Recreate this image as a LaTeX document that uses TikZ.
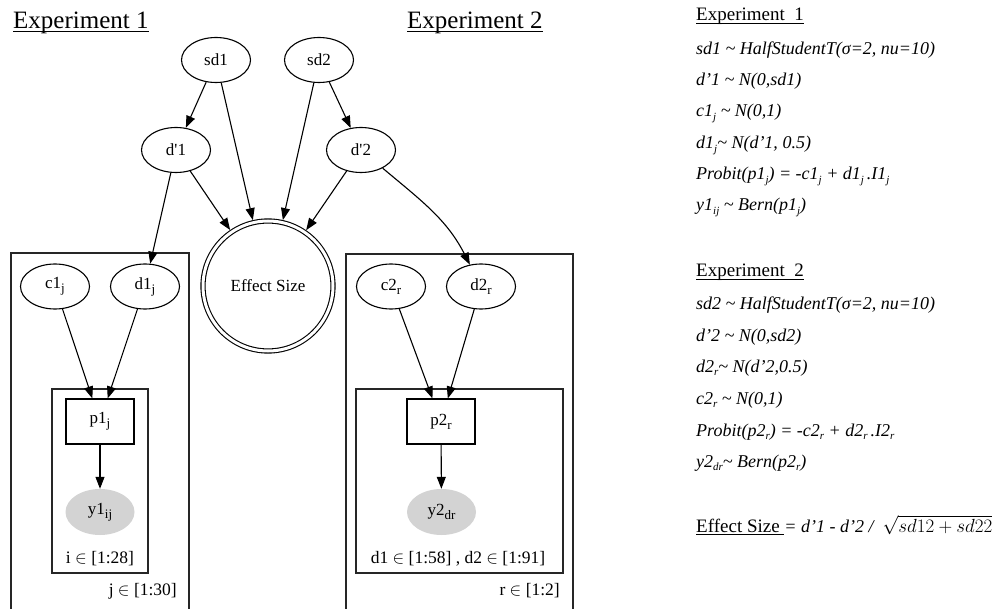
\documentclass[tikz,border=0pt]{standalone}
\usepackage{fix-cm}
\usepackage{fontspec}
\setmainfont{Liberation Serif}
\usetikzlibrary{arrows.meta,shapes.geometric}

\newcommand\fsz[1]{\fontsize{#1}{#1}\selectfont}
% subscript inside graph nodes
\newcommand\gsub[1]{\raisebox{-4pt}{\fsz{13}#1}}
% subscript in the model equations
\newcommand\tsub[1]{\raisebox{-3.5pt}{\fsz{11}#1}}
% text with a rule just under the baseline
\newcommand\myul[1]{\setbox0\hbox{#1}\rlap{\rule[-3pt]{\wd0}{1.1pt}}\box0}

\begin{document}
\begin{tikzpicture}[x=1pt,y=-1pt,
  every node/.style={inner sep=0pt},
  var/.style={draw,ellipse,line width=1.1pt,minimum width=69pt,minimum height=45pt,font=\fsz{17}},
  obs/.style={ellipse,fill={rgb,255:red,211;green,211;blue,211},minimum width=69pt,minimum height=46pt,font=\fsz{17}},
  det/.style={draw,rectangle,line width=1.1pt,minimum width=68pt,minimum height=45pt,font=\fsz{17}},
  esz/.style={draw,circle,line width=1.1pt,double,double distance=3pt,minimum size=130pt,outer sep=2.6pt,font=\fsz{17}},
  edge/.style={line width=1.1pt,-{Triangle[length=12pt,width=9pt]}},
  plate/.style={draw=black!85,line width=1.1pt},
  plab/.style={font=\fsz{17.5},anchor=base},
  ttl/.style={font=\fsz{25},anchor=base west},
  eqh/.style={font=\fsz{19},anchor=base west},
  eq/.style={font=\fsz{18}\itshape,anchor=base west}]
\useasboundingbox (0,0) rectangle (1000,609);

% titles
\node[ttl] (t1) at (13,29) {\myul{Experiment 1}};
\node[ttl] (t2) at (407,29) {\myul{Experiment 2}};

% plates
\draw[plate] (11,253) rectangle (189,620);
\draw[plate] (52,389) rectangle (148,573);
\draw[plate] (346,254) rectangle (573,620);
\draw[plate] (356,389) rectangle (563,573);

% graph nodes
\node[var] (sd1) at (216,60) {sd1};
\node[var] (sd2) at (319,60) {sd2};
\node[var] (dp1) at (176,150) {d\textquotesingle 1};
\node[var] (dp2) at (361,150) {d\textquotesingle 2};
\node[esz] (es) at (268,286) {Effect Size};
\node[var] (c1) at (55,286.5) {c1\gsub{j}};
\node[var] (d1) at (145,286.5) {d1\gsub{j}};
\node[det] (p1) at (100,421.5) {p1\gsub{j}};
\node[obs] (y1) at (100,512) {y1\gsub{ij}};
\node[var] (c2) at (391,286.5) {c2\gsub{r}};
\node[var] (d2) at (481,286.5) {d2\gsub{r}};
\node[det] (p2) at (441,421.5) {p2\gsub{r}};
\node[obs] (y2) at (441.5,512) {y2\gsub{dr}};

% plate labels
\node[plab] (li) at (100,563) {i $\in$ [1:28]};
\node[plab,anchor=base east] (lj) at (177,595) {j $\in$ [1:30]};
\node[plab] (ld) at (458,563) {d1 $\in$ [1:58] , d2 $\in$ [1:91]};
\node[plab,anchor=base east] (lr) at (560,595) {r $\in$ [1:2]};

% connectors
\draw[edge] (sd1) -- (dp1);
\draw[edge] (sd1) -- (es);
\draw[edge] (sd2) -- (es);
\draw[edge] (sd2) -- (dp2);
\draw[edge] (dp1) -- (es);
\draw[edge] (dp2) -- (es);
\draw[edge] (dp1) -- (d1);
\draw[edge] (dp2) to[out=-40,in=117] (d2);
\draw[edge] (c1) -- (p1);
\draw[edge] (d1) -- (p1);
\draw[edge] (p1) -- (y1);
\draw[edge] (c2) -- (p2);
\draw[edge] (d2) -- (p2);
\draw[edge] (p2) -- (y2);

% model equations
\node[eqh] (h1) at (696,21) {\myul{Experiment\ \ 1}};
\node[eq] (e1) at (696,55) {sd1 \textasciitilde\ HalfStudentT(σ=2, nu=10)};
\node[eq] (e2) at (696,86) {d’1 \textasciitilde\ N(0,sd1)};
\node[eq] (e3) at (696,117) {c1\tsub{j} \textasciitilde\ N(0,1)};
\node[eq] (e4) at (696,149) {d1\tsub{j}\textasciitilde\ N(d’1, 0.5)};
\node[eq] (e5) at (696,180) {Probit(p1\tsub{j}) = -c1\tsub{j} + d1\tsub{j}\,.I1\tsub{j}};
\node[eq] (e6) at (696,211) {y1\tsub{ij} \textasciitilde\ Bern(p1\tsub{j})};

\node[eqh] (h2) at (696,277) {\myul{Experiment\ \ 2}};
\node[eq] (e7) at (696,309) {sd2 \textasciitilde\ HalfStudentT(σ=2, nu=10)};
\node[eq] (e8) at (696,341) {d’2 \textasciitilde\ N(0,sd2)};
\node[eq] (e9) at (696,372) {d2\tsub{r}\textasciitilde\ N(d’2,0.5)};
\node[eq] (e10) at (696,404) {c2\tsub{r} \textasciitilde\ N(0,1)};
\node[eq] (e11) at (696,436) {Probit(p2\tsub{r}) = -c2\tsub{r} + d2\tsub{r}\,.I2\tsub{r}};
\node[eq] (e12) at (696,467) {y2\tsub{dr}\textasciitilde\ Bern(p2\tsub{r})};

\node[eq] (ef) at (696,532) {{\upshape\fsz{19}\myul{Effect Size\ }}= d’1 - d’2 /\ \ {\fsz{19}$\sqrt{sd12+sd22}$}};
\end{tikzpicture}
\end{document}
